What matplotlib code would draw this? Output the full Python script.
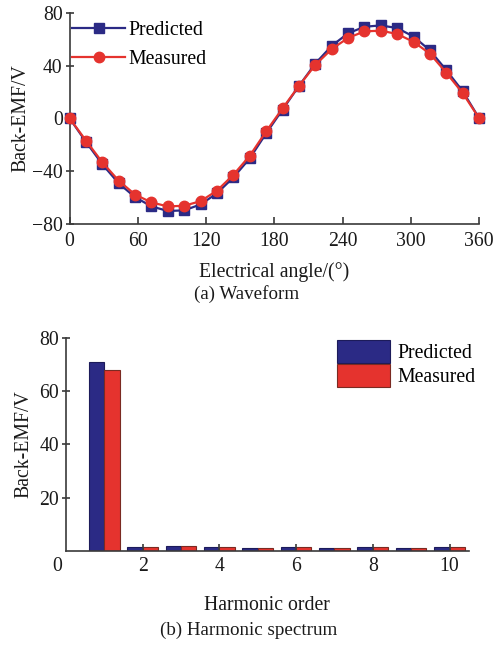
import numpy as np
import matplotlib
matplotlib.use("Agg")
import matplotlib.pyplot as plt
from matplotlib.transforms import ScaledTranslation

plt.rcParams['font.family'] = ['Liberation Serif', 'DejaVu Serif']

# Back-EMF waveform, sampled every 14.4 electrical degrees
angle = np.linspace(0, 360, 26)
predicted_wave = [0, -18, -35, -49.5, -60, -67, -70.5, -70, -65.5, -57, -45, -30.5, -11.5,
                  6.5, 24.5, 41.5, 55, 64.5, 69.5, 70.5, 68.5, 62, 51.5, 36.5, 20.5, 0]
measured_wave = [0, -17, -33.5, -47.5, -58, -64, -67, -66.5, -63, -55, -43, -28.5, -10,
                 7.5, 24.5, 40.5, 52.5, 61, 66, 66.5, 64, 58, 49, 34.5, 19, 0]
angle_ticks = [0, 60, 120, 180, 240, 300, 360]
emf_ticks = [-80, -40, 0, 40, 80]

# Harmonic spectrum
orders = np.arange(1, 11)
predicted_harm = [71, 1.6, 1.9, 1.5, 1.2, 1.4, 1.2, 1.5, 1.3, 1.6]
measured_harm = [68, 1.4, 1.8, 1.4, 1.2, 1.4, 1.3, 1.4, 1.3, 1.6]
order_ticks = [0, 2, 4, 6, 8, 10]
spec_ticks = [20, 40, 60, 80]

BLUE = '#2b2a85'
RED = '#e5332e'
TXT = '#1a1a1a'
FS = 14.2

fig = plt.figure(figsize=(4.97, 6.46), dpi=100)

# ---- (a) waveform ----
ax1 = fig.add_axes([0.140, 0.654, 0.824, 0.326])
ax1.plot(angle, predicted_wave, color=BLUE, lw=1.6, marker='s', ms=6.5,
         mfc=BLUE, mec=BLUE, label='Predicted', clip_on=False, zorder=3)
ax1.plot(angle, measured_wave, color=RED, lw=1.6, marker='o', ms=7.5,
         mfc=RED, mec=RED, label='Measured', clip_on=False, zorder=4)
ax1.set_xlim(0, 360)
ax1.set_ylim(-80, 80)
ax1.set_xticks(angle_ticks)
ax1.set_yticks(emf_ticks)
ax1.set_yticklabels(['\u221280', '\u221240', '0', '40', '80'])
ax1.set_xlabel('Electrical angle/(\u00b0)', fontsize=FS, color=TXT, labelpad=8)
ax1.set_ylabel('Back-EMF/V', fontsize=FS, color=TXT, labelpad=1)
ax1.legend(loc='upper left', bbox_to_anchor=(0.006, 0.96), frameon=False,
           fontsize=FS, handlelength=2.7, handletextpad=0.15, labelspacing=0.5,
           borderaxespad=0.0, borderpad=0.0)

# ---- (b) harmonic spectrum ----
ax2 = fig.add_axes([0.133, 0.147, 0.810, 0.330])
w = 0.4
ax2.bar(orders - w / 2, predicted_harm, width=w, color=BLUE, edgecolor='#1c1b5a',
        lw=0.8, label='Predicted')
ax2.bar(orders + w / 2, measured_harm, width=w, color=RED, edgecolor='#7a2a22',
        lw=0.8, label='Measured')
ax2.set_xlim(0, 10.5)
ax2.set_ylim(0, 80)
ax2.set_xticks(order_ticks)
ax2.set_yticks(spec_ticks)
ax2.set_xlabel('Harmonic order', fontsize=FS, color=TXT, labelpad=15)
ax2.set_ylabel('Back-EMF/V', fontsize=FS, color=TXT, labelpad=4)
ax2.legend(loc='upper left', bbox_to_anchor=(0.674, 0.99), frameon=False,
           fontsize=FS, handlelength=2.65, handleheight=1.45, handletextpad=0.4,
           labelspacing=0.02, borderaxespad=0.0, borderpad=0.0)

for ax in (ax1, ax2):
    for s in ('top', 'right'):
        ax.spines[s].set_visible(False)
    for s in ('left', 'bottom'):
        ax.spines[s].set_color('#3a3a3a')
        ax.spines[s].set_linewidth(1.2)
    ax.tick_params(axis='x', direction='in', length=5, width=1.2, color='#3a3a3a',
                   labelsize=FS, labelcolor=TXT, pad=6)
    ax.tick_params(axis='y', direction='inout', length=6, width=1.2, color='#3a3a3a',
                   labelsize=FS, labelcolor=TXT, pad=2)
ax2.tick_params(axis='x', pad=4)

# the zero label of the spectrum sits just left of the origin, without a tick
zero_tick = ax2.xaxis.get_major_ticks()[0]
zero_tick.tick1line.set_visible(False)
zero_tick.label1.set_transform(zero_tick.label1.get_transform()
                               + ScaledTranslation(-9 / 100, 0, fig.dpi_scale_trans))

fig.text(0.497, 0.545, '(a) Waveform', ha='center', va='center', fontsize=FS - 0.5, color=TXT)
fig.text(0.500, 0.024, '(b) Harmonic spectrum', ha='center', va='center', fontsize=FS - 0.5, color=TXT)

fig.savefig('out.png', dpi=100)
